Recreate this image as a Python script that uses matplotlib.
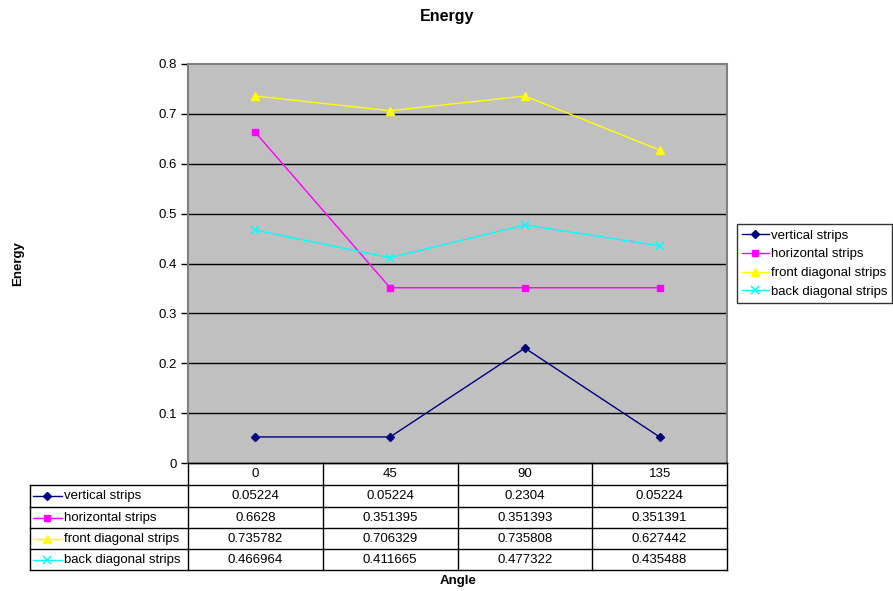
import matplotlib
matplotlib.use("Agg")
import matplotlib.pyplot as plt
from matplotlib.lines import Line2D

plt.rcParams['font.family'] = ['Liberation Sans', 'DejaVu Sans']

angles = ["0", "45", "90", "135"]
series_names = ["vertical strips", "horizontal strips",
                "front diagonal strips", "back diagonal strips"]
vertical = [0.05224, 0.05224, 0.2304, 0.05224]
horizontal = [0.6628, 0.351395, 0.351393, 0.351391]
front_diag = [0.735782, 0.706329, 0.735808, 0.627442]
back_diag = [0.466964, 0.411665, 0.477322, 0.435488]
table_text = [
    ["0.05224", "0.05224", "0.2304", "0.05224"],
    ["0.6628", "0.351395", "0.351393", "0.351391"],
    ["0.735782", "0.706329", "0.735808", "0.627442"],
    ["0.466964", "0.411665", "0.477322", "0.435488"],
]
y_ticks = [0, 0.1, 0.2, 0.3, 0.4, 0.5, 0.6, 0.7, 0.8]

FS = 9.5
styles = [
    dict(color="#000080", marker="D", ms=4.2),
    dict(color="#FF00FF", marker="s", ms=5),
    dict(color="#FFFF00", marker="^", ms=5.5),
    dict(color="#00FFFF", marker="x", ms=5.5, mew=1.1),
]
values = [vertical, horizontal, front_diag, back_diag]

W, H = 893, 591
fig = plt.figure(figsize=(W / 100, H / 100), dpi=100)

# plot area (pixel bounds)
L, R, T, B = 188, 727, 64, 463
ax = fig.add_axes([L / W, 1 - B / H, (R - L) / W, (B - T) / H])
ax.set_facecolor("#C0C0C0")
x = list(range(len(angles)))
for vals, st in zip(values, styles):
    ax.plot(x, vals, lw=1, clip_on=False, zorder=3, **st)
ax.set_xlim(-0.5, len(angles) - 0.5)
ax.set_ylim(0, 0.8)
ax.set_yticks(y_ticks)
ax.set_yticklabels([f"{t:g}" for t in y_ticks], fontsize=FS)
ax.set_xticks([])
ax.tick_params(axis="y", direction="out", length=5, width=1, color="black", pad=3)
for yv in y_ticks[1:-1]:
    ax.axhline(yv, color="black", lw=1, zorder=1)
for side in ["top", "right", "left"]:
    ax.spines[side].set_color("#808080")
    ax.spines[side].set_linewidth(1.5)
ax.spines["bottom"].set_color("black")
ax.spines["bottom"].set_linewidth(1)
ax.set_ylabel("Energy", fontsize=FS, fontweight="bold", labelpad=0)
ax.yaxis.set_label_coords((24 - L) / (R - L), 0.5)

fig.text(447 / W, 1 - 17 / H, "Energy", ha="center", va="center",
         fontsize=11.5, fontweight="bold")
fig.text(458 / W, 1 - 581 / H, "Angle", ha="center", va="center",
         fontsize=FS, fontweight="bold")

# data table below the plot area
rows_y = [463, 485, 507, 528, 549, 570]
TL = 30
tax = fig.add_axes([L / W, 1 - rows_y[-1] / H, (R - L) / W,
                    (rows_y[-1] - rows_y[0]) / H])
tax.set_xlim(-0.5, len(angles) - 0.5)
tax.set_ylim(rows_y[-1], rows_y[0])
tax.axis("off")
unit = (R - L) / len(angles)
xl = -0.5 - (L - TL) / unit
tax.plot([-0.5, -0.5], [rows_y[0], rows_y[-1]], color="black", lw=1, clip_on=False)
for i in range(1, len(angles) + 1):
    tax.plot([i - 0.5, i - 0.5], [rows_y[0], rows_y[-1]], color="black", lw=1,
             clip_on=False)
tax.plot([xl, xl], [rows_y[1], rows_y[-1]], color="black", lw=1, clip_on=False)
tax.plot([-0.5, len(angles) - 0.5], [rows_y[0], rows_y[0]], color="black", lw=1,
         clip_on=False)
for yy in rows_y[1:]:
    tax.plot([xl, len(angles) - 0.5], [yy, yy], color="black", lw=1, clip_on=False)
for i, a in enumerate(angles):
    tax.text(i, (rows_y[0] + rows_y[1]) / 2 + 0.5, a, ha="center", va="center",
             fontsize=FS)
for r, (name, st, cells) in enumerate(zip(series_names, styles, table_text)):
    yc = (rows_y[r + 1] + rows_y[r + 2]) / 2 + 0.5
    x0 = xl + 3 / unit
    x1 = xl + 32 / unit
    tax.plot([x0, x1], [yc, yc], color=st["color"], lw=1, clip_on=False)
    tax.plot([(x0 + x1) / 2], [yc], clip_on=False, ls="none", **st)
    tax.text(xl + 34 / unit, yc, name, ha="left", va="center", fontsize=FS)
    for i, c in enumerate(cells):
        tax.text(i, yc, c, ha="center", va="center", fontsize=FS)

# legend at the right
handles = [Line2D([], [], lw=1, **st) for st in styles]
leg = fig.legend(handles, series_names, loc="upper left",
                 bbox_to_anchor=(737 / W, 1 - 224 / H), fontsize=FS,
                 frameon=True, fancybox=False, edgecolor="black",
                 handlelength=2.0, handletextpad=0.15, borderpad=0.4,
                 labelspacing=0.5, borderaxespad=0)
leg.get_frame().set_linewidth(1)

fig.savefig("out.png", dpi=100)
